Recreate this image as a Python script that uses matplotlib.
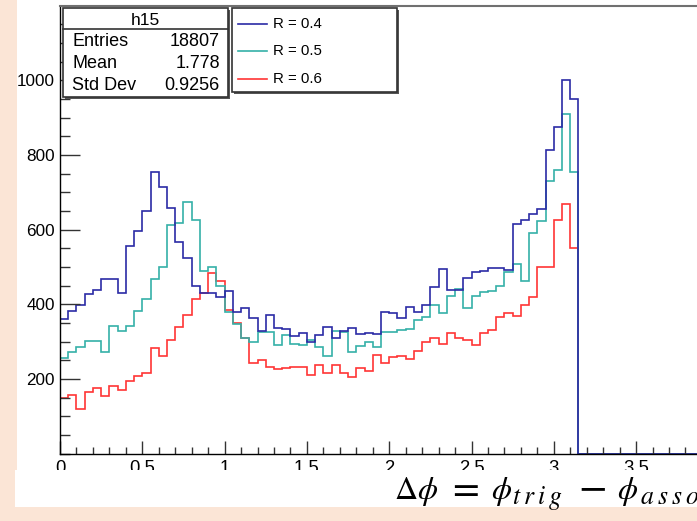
import numpy as np
import matplotlib
matplotlib.use('Agg')
import matplotlib.pyplot as plt
from matplotlib.patches import Rectangle
from matplotlib.lines import Line2D
from matplotlib.ticker import MultipleLocator, FuncFormatter

# ---------------- data ----------------
bin_width = 0.05
r04 = [360, 383, 399, 428, 438, 468, 467, 430, 557, 597,
       650, 753, 713, 659, 567, 525, 450, 431, 431, 419,
       436, 380, 390, 362, 328, 371, 337, 334, 315, 322,
       300, 318, 340, 309, 328, 336, 320, 322, 320, 380,
       378, 364, 394, 380, 398, 445, 494, 438, 438, 470,
       486, 490, 496, 498, 492, 615, 626, 643, 656, 814,
       875, 1000, 950]
r05 = [255, 271, 285, 301, 303, 272, 343, 328, 342, 381,
       413, 468, 499, 612, 619, 675, 627, 490, 499, 450,
       380, 346, 311, 298, 325, 325, 292, 317, 295, 290,
       305, 287, 262, 329, 326, 273, 288, 300, 286, 327,
       327, 330, 334, 358, 366, 398, 376, 422, 441, 389,
       421, 432, 436, 450, 487, 507, 462, 592, 622, 731,
       759, 910, 753]
r06 = [148, 157, 119, 164, 175, 155, 182, 170, 195, 209,
       217, 282, 262, 304, 338, 372, 413, 431, 484, 462,
       386, 351, 309, 242, 251, 231, 227, 230, 233, 233,
       212, 237, 217, 237, 215, 206, 230, 222, 264, 242,
       258, 262, 253, 275, 298, 310, 295, 324, 309, 304,
       291, 322, 331, 365, 378, 368, 398, 420, 499, 501,
       626, 668, 550]
series_labels = ['R = 0.4', 'R = 0.5', 'R = 0.6']
series_colors = ['#2b2ba6', '#35b0a8', '#ff3535']
y_ticks = [200, 400, 600, 800, 1000]
x_ticks = [0, 0.5, 1, 1.5, 2, 2.5, 3, 3.5, 4]
stats_title = 'h15'
stats_names = ['Entries', 'Mean', 'Std Dev']
stats_values = ['18807', '1.778', '0.9256']
# x-axis title pieces: Δϕ = ϕ_trig − ϕ_assoc
label_main = [r'$\Delta\phi$', r'$=$', r'$\phi$', r'$-$', r'$\phi$']
label_subs = [r'$t\:r\:i\:g$', r'$a\:s\:s\:o\:c$']

# ---------------- layout ----------------
W, H = 697, 521
PEACH = '#fbe5d6'
plt.rcParams['font.family'] = ['Liberation Sans', 'DejaVu Sans']
plt.rcParams['mathtext.fontset'] = 'stix'

fig = plt.figure(figsize=(W / 100, H / 100), dpi=100)
fig.patch.set_facecolor('white')


def fx(p):
    return p / W


def fy(p):
    return 1 - p / H


def box(x1, y1, x2, y2, **kw):
    return Rectangle((fx(x1), fy(y2)), (x2 - x1) / W, (y2 - y1) / H,
                     transform=fig.transFigure, **kw)


x0_px, yb_px, yt_px = 60, 453.7, 6
px_per_unit_x = 164.6
px_per_unit_y = 0.3735
xmax = 4.0
ymax = (yb_px - yt_px) / px_per_unit_y

ax = fig.add_axes([fx(x0_px), fy(yb_px), xmax * px_per_unit_x / W, (yb_px - yt_px) / H])
ax.set_xlim(0, xmax)
ax.set_ylim(0, ymax)
ax.set_facecolor('white')

n_total = int(round(xmax / bin_width))
edges = np.arange(n_total + 1) * bin_width


def padded(v):
    v = np.asarray(v, float)
    return np.concatenate([v, np.zeros(n_total - len(v))])


for vals, col in [(r06, series_colors[2]), (r05, series_colors[1]), (r04, series_colors[0])]:
    ax.stairs(padded(vals), edges, color=col, lw=1.2, baseline=None)

for s in ['left', 'bottom']:
    ax.spines[s].set_color('black')
    ax.spines[s].set_linewidth(1.0)
ax.spines['top'].set_color('#707070')
ax.spines['top'].set_linewidth(1.5)
ax.spines['right'].set_visible(False)

ax.set_xticks(x_ticks)
ax.xaxis.set_minor_locator(MultipleLocator(0.1))
ax.xaxis.set_major_formatter(FuncFormatter(lambda v, p: '%g' % v))
ax.set_yticks(y_ticks)
ax.yaxis.set_minor_locator(MultipleLocator(50))
ax.tick_params(axis='x', which='major', direction='in', length=9.5, width=1.0,
               labelsize=13.3, pad=4.5, color='#333333')
ax.tick_params(axis='x', which='minor', direction='in', length=5, width=1.0, color='#333333')
ax.tick_params(axis='y', which='major', direction='in', length=14.4, width=1.0,
               labelsize=12.3, pad=3.6, color='#333333')
ax.tick_params(axis='y', which='minor', direction='in', length=7.2, width=1.0, color='#333333')

# ---------------- stats box ----------------
fig.add_artist(box(65, 10, 230, 99, facecolor='#555555', edgecolor='none', zorder=5))
fig.add_artist(box(63, 8, 228, 97, facecolor='white', edgecolor='#333333', lw=1.2, zorder=6))
fig.add_artist(Line2D([fx(63), fx(228)], [fy(29.3), fy(29.3)], transform=fig.transFigure,
                      color='#333333', lw=1.2, zorder=7))
fig.text(fx(145.5), fy(20.5), stats_title, ha='center', va='center', fontsize=12.5, zorder=7)
for i, (nm, val) in enumerate(zip(stats_names, stats_values)):
    yy = [41.5, 63.5, 86][i]
    fig.text(fx(72), fy(yy), nm, ha='left', va='center', fontsize=13, zorder=7)
    fig.text(fx(220), fy(yy), val, ha='right', va='center', fontsize=13, zorder=7)

# ---------------- legend ----------------
fig.add_artist(box(234, 10, 399, 94, facecolor='#555555', edgecolor='none', zorder=5))
fig.add_artist(box(232, 8, 397, 92, facecolor='white', edgecolor='#333333', lw=1.2, zorder=6))
for i, (lab, col) in enumerate(zip(series_labels, series_colors)):
    yy = [24, 51, 79][i]
    fig.add_artist(Line2D([fx(238), fx(267)], [fy(yy), fy(yy)], transform=fig.transFigure,
                          color=col, lw=1.2, zorder=7))
    fig.text(fx(273), fy(yy), lab, ha='left', va='center', fontsize=10.8, zorder=7)

# ---------------- slide background pieces ----------------
fig.add_artist(box(15, 470, W, 507, facecolor='white', edgecolor='none', zorder=9))
fig.add_artist(box(0, 0, 17, 470, facecolor=PEACH, edgecolor='none', zorder=10))
fig.add_artist(box(0, 470, 15, H, facecolor=PEACH, edgecolor='none', zorder=10))
fig.add_artist(box(0, 507, W, H, facecolor=PEACH, edgecolor='none', zorder=10))

# x-axis title, laid out piece by piece like the slide's equation
main_x = [394, 447, 491, 578, 617]
main_fs = [23, 28, 23, 30, 23]
for txt, xx, fs in zip(label_main, main_x, main_fs):
    fig.text(fx(xx), fy(498.5), txt, ha='left', va='baseline', fontsize=fs, zorder=11)
for txt, xx in zip(label_subs, [512, 640]):
    fig.text(fx(xx), fy(504), txt, ha='left', va='baseline', fontsize=18.5, zorder=11)

fig.savefig('out.png', dpi=100, facecolor=fig.get_facecolor())
